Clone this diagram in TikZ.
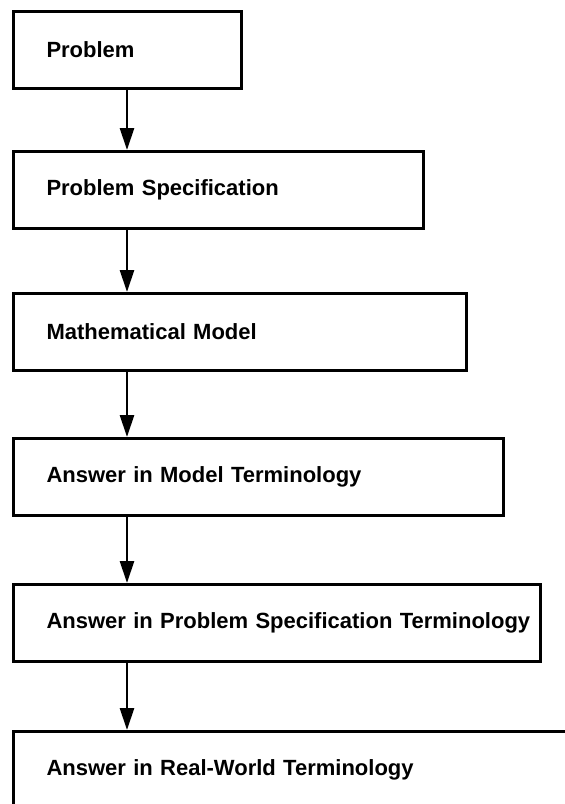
\documentclass[tikz,border=0pt]{standalone}
\usepackage{fontspec}
\setmainfont{Liberation Sans}
\usetikzlibrary{arrows.meta,positioning}
\tikzset{
  stagebox/.style={
    draw,
    line width=3pt,
    inner xsep=0pt,
    inner ysep=0pt,
    align=left,
    minimum height=77pt,
    font=\fontsize{22}{25}\selectfont\bfseries,
    execute at begin node={\hspace*{33pt}}
  },
  arrow/.style={-{Triangle[length=22pt,width=14pt]}, line width=2.8pt}
}

\begin{document}
\begin{tikzpicture}[x=1pt,y=-1pt]
  \clip (0,0) rectangle (565,804);

  \node[stagebox, text width=228pt, anchor=north west] (prob) at (12,10) {Problem};
  \node[stagebox, text width=410pt, below=60pt of prob.south west, anchor=north west] (spec) {Problem Specification};
  \node[stagebox, text width=453pt, below=62pt of spec.south west, anchor=north west] (model) {Mathematical Model};
  \node[stagebox, text width=490pt, below=65pt of model.south west, anchor=north west] (modans) {Answer in Model Terminology};
  \node[stagebox, text width=527pt, below=66pt of modans.south west, anchor=north west] (specans) {Answer in Problem Specification Terminology};
  % last box runs off the page on the right and at the bottom
  \node[stagebox, text width=600pt, minimum height=100pt, text depth=28pt, below=67pt of specans.south west, anchor=north west] (realans) {Answer in Real-World Terminology};

  \draw[arrow] ([xshift=115pt]prob.south west) -- ([xshift=115pt]spec.north west);
  \draw[arrow] ([xshift=115pt]spec.south west) -- ([xshift=115pt]model.north west);
  \draw[arrow] ([xshift=115pt]model.south west) -- ([xshift=115pt]modans.north west);
  \draw[arrow] ([xshift=115pt]modans.south west) -- ([xshift=115pt]specans.north west);
  \draw[arrow] ([xshift=115pt]specans.south west) -- ([xshift=115pt]realans.north west);
\end{tikzpicture}
\end{document}
